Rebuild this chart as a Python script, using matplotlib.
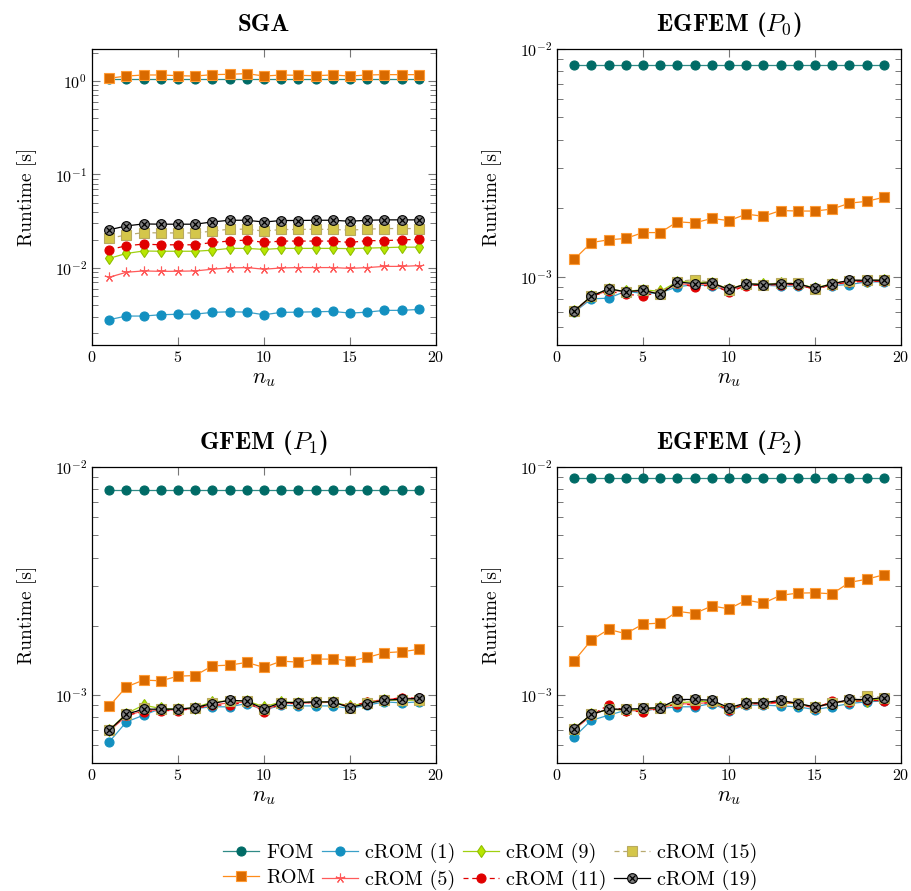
import matplotlib
matplotlib.use("Agg")
import matplotlib.pyplot as plt
from matplotlib.ticker import LogLocator, NullFormatter, FixedLocator
from matplotlib.legend_handler import HandlerTuple

plt.rcParams['font.family'] = 'serif'
plt.rcParams['font.serif'] = ['cmr10', 'DejaVu Serif']
plt.rcParams['mathtext.fontset'] = 'cm'
plt.rcParams['axes.formatter.use_mathtext'] = True
plt.rcParams['axes.unicode_minus'] = False

n_u = list(range(1, 20))

# ---- SGA ----
fom_sga = [1.06, 1.06, 1.06, 1.06, 1.06, 1.06, 1.06, 1.06, 1.06, 1.06, 1.06, 1.06, 1.06, 1.06, 1.06, 1.06, 1.06, 1.06, 1.06]
rom_sga = [1.07, 1.13, 1.16, 1.16, 1.14, 1.13, 1.17, 1.18, 1.20, 1.13, 1.16, 1.15, 1.14, 1.16, 1.13, 1.16, 1.17, 1.17, 1.17]
c1_sga = [0.0028, 0.00306, 0.00306, 0.00316, 0.0032, 0.00321, 0.00335, 0.0034, 0.00337, 0.00316, 0.00335, 0.00337, 0.0034, 0.00343, 0.00329, 0.00337, 0.00352, 0.00352, 0.0036]
c5_sga = [0.00796, 0.0090, 0.0093, 0.0092, 0.00922, 0.0093, 0.0097, 0.0100, 0.0101, 0.0097, 0.0100, 0.0101, 0.0101, 0.0101, 0.0099, 0.0101, 0.0104, 0.0104, 0.0106]
c9_sga = [0.01267, 0.0143, 0.0152, 0.0151, 0.0151, 0.0151, 0.0155, 0.0162, 0.0162, 0.0158, 0.0162, 0.0162, 0.0162, 0.0162, 0.0161, 0.0163, 0.0165, 0.0167, 0.0167]
c11_sga = [0.01567, 0.0173, 0.0180, 0.0177, 0.0177, 0.0177, 0.01875, 0.0194, 0.0199, 0.01875, 0.0194, 0.0194, 0.0194, 0.0194, 0.01875, 0.0196, 0.0196, 0.0200, 0.0202]
c15_sga = [0.0207, 0.0226, 0.0239, 0.0237, 0.0237, 0.0237, 0.0248, 0.0260, 0.0260, 0.0248, 0.0258, 0.0258, 0.0260, 0.0258, 0.0254, 0.0260, 0.0264, 0.0264, 0.0264]
c19_sga = [0.0256, 0.0282, 0.0296, 0.0294, 0.0294, 0.0294, 0.0311, 0.0324, 0.0324, 0.0310, 0.0322, 0.0322, 0.0324, 0.0324, 0.0316, 0.0324, 0.0327, 0.0327, 0.0327]

# ---- EGFEM (P0) ----
fom_p0 = [8.53e-3, 8.53e-3, 8.53e-3, 8.53e-3, 8.53e-3, 8.53e-3, 8.53e-3, 8.53e-3, 8.53e-3, 8.53e-3, 8.53e-3, 8.53e-3, 8.53e-3, 8.53e-3, 8.53e-3, 8.53e-3, 8.53e-3, 8.53e-3, 8.53e-3]
rom_p0 = [1.19e-3, 1.41e-3, 1.45e-3, 1.47e-3, 1.56e-3, 1.56e-3, 1.74e-3, 1.72e-3, 1.80e-3, 1.76e-3, 1.88e-3, 1.84e-3, 1.95e-3, 1.94e-3, 1.94e-3, 1.98e-3, 2.10e-3, 2.14e-3, 2.23e-3]
c1_p0 = [6.97e-4, 7.98e-4, 8.03e-4, 8.62e-4, 8.42e-4, 8.48e-4, 9.01e-4, 9.22e-4, 9.07e-4, 8.68e-4, 9.16e-4, 9.16e-4, 9.07e-4, 9.07e-4, 8.92e-4, 9.13e-4, 9.22e-4, 9.47e-4, 9.47e-4]
c5_p0 = [7.0e-4, 8.15e-4, 8.7e-4, 8.6e-4, 8.6e-4, 8.45e-4, 9.3e-4, 9.2e-4, 9.3e-4, 8.7e-4, 9.2e-4, 9.2e-4, 9.2e-4, 9.2e-4, 8.8e-4, 9.2e-4, 9.5e-4, 9.55e-4, 9.6e-4]
c9_p0 = [7.05e-4, 8.2e-4, 8.8e-4, 8.6e-4, 8.75e-4, 8.6e-4, 9.5e-4, 9.45e-4, 9.4e-4, 8.8e-4, 9.3e-4, 9.25e-4, 9.35e-4, 9.3e-4, 8.9e-4, 9.3e-4, 9.6e-4, 9.6e-4, 9.65e-4]
c11_p0 = [7.05e-4, 8.2e-4, 8.62e-4, 8.34e-4, 8.25e-4, 8.48e-4, 9.38e-4, 8.98e-4, 9.22e-4, 8.53e-4, 9.13e-4, 9.19e-4, 9.22e-4, 9.22e-4, 8.77e-4, 9.22e-4, 9.44e-4, 9.53e-4, 9.53e-4]
c15_p0 = [7.05e-4, 8.2e-4, 8.85e-4, 8.55e-4, 8.7e-4, 8.4e-4, 9.5e-4, 9.7e-4, 9.4e-4, 8.75e-4, 9.3e-4, 9.2e-4, 9.35e-4, 9.35e-4, 8.8e-4, 9.3e-4, 9.6e-4, 9.65e-4, 9.65e-4]
c19_p0 = [7.05e-4, 8.2e-4, 8.83e-4, 8.57e-4, 8.71e-4, 8.34e-4, 9.47e-4, 9.3e-4, 9.38e-4, 8.77e-4, 9.29e-4, 9.22e-4, 9.3e-4, 9.3e-4, 8.86e-4, 9.29e-4, 9.63e-4, 9.63e-4, 9.63e-4]

# ---- GFEM (P1) ----
fom_p1 = [7.95e-3, 7.95e-3, 7.95e-3, 7.95e-3, 7.95e-3, 7.95e-3, 7.95e-3, 7.95e-3, 7.95e-3, 7.95e-3, 7.95e-3, 7.95e-3, 7.95e-3, 7.95e-3, 7.95e-3, 7.95e-3, 7.95e-3, 7.95e-3, 7.95e-3]
rom_p1 = [8.88e-4, 1.081e-3, 1.157e-3, 1.149e-3, 1.204e-3, 1.212e-3, 1.337e-3, 1.346e-3, 1.384e-3, 1.315e-3, 1.402e-3, 1.388e-3, 1.431e-3, 1.431e-3, 1.407e-3, 1.455e-3, 1.526e-3, 1.542e-3, 1.578e-3]
c1_p1 = [6.19e-4, 7.58e-4, 8.11e-4, 8.68e-4, 8.59e-4, 8.68e-4, 8.83e-4, 8.83e-4, 9.13e-4, 8.53e-4, 8.98e-4, 8.91e-4, 8.91e-4, 8.91e-4, 8.68e-4, 8.98e-4, 9.28e-4, 9.19e-4, 9.28e-4]
c5_p1 = [6.9e-4, 8.05e-4, 8.5e-4, 8.55e-4, 8.55e-4, 8.7e-4, 9.0e-4, 9.2e-4, 9.25e-4, 8.5e-4, 9.15e-4, 9.15e-4, 9.2e-4, 9.25e-4, 8.8e-4, 9.3e-4, 9.5e-4, 9.65e-4, 9.6e-4]
c9_p1 = [6.96e-4, 8.25e-4, 8.98e-4, 8.68e-4, 8.62e-4, 8.76e-4, 9.28e-4, 9.38e-4, 9.38e-4, 8.83e-4, 9.28e-4, 9.22e-4, 9.28e-4, 9.28e-4, 8.88e-4, 9.22e-4, 9.44e-4, 9.44e-4, 9.44e-4]
c11_p1 = [6.96e-4, 8.11e-4, 8.4e-4, 8.5e-4, 8.5e-4, 8.68e-4, 8.98e-4, 8.98e-4, 9.28e-4, 8.4e-4, 9.13e-4, 9.13e-4, 9.28e-4, 9.28e-4, 8.83e-4, 9.28e-4, 9.44e-4, 9.7e-4, 9.61e-4]
c15_p1 = [6.96e-4, 8.19e-4, 8.7e-4, 8.6e-4, 8.62e-4, 8.76e-4, 9.2e-4, 9.4e-4, 9.35e-4, 8.6e-4, 9.22e-4, 9.22e-4, 9.28e-4, 9.28e-4, 8.72e-4, 9.15e-4, 9.44e-4, 9.5e-4, 9.5e-4]
c19_p1 = [6.96e-4, 8.19e-4, 8.62e-4, 8.62e-4, 8.62e-4, 8.76e-4, 9.13e-4, 9.44e-4, 9.35e-4, 8.65e-4, 9.22e-4, 9.22e-4, 9.28e-4, 9.28e-4, 8.76e-4, 9.13e-4, 9.44e-4, 9.54e-4, 9.61e-4]

# ---- EGFEM (P2) ----
fom_p2 = [8.94e-3, 8.94e-3, 8.94e-3, 8.94e-3, 8.94e-3, 8.94e-3, 8.94e-3, 8.94e-3, 8.94e-3, 8.94e-3, 8.94e-3, 8.94e-3, 8.94e-3, 8.94e-3, 8.94e-3, 8.94e-3, 8.94e-3, 8.94e-3, 8.94e-3]
rom_p2 = [1.407e-3, 1.735e-3, 1.933e-3, 1.851e-3, 2.04e-3, 2.06e-3, 2.32e-3, 2.27e-3, 2.45e-3, 2.38e-3, 2.60e-3, 2.52e-3, 2.73e-3, 2.79e-3, 2.80e-3, 2.77e-3, 3.11e-3, 3.21e-3, 3.36e-3]
c1_p2 = [6.51e-4, 7.7e-4, 8.11e-4, 8.53e-4, 8.47e-4, 8.68e-4, 8.83e-4, 8.83e-4, 9.13e-4, 8.47e-4, 8.98e-4, 8.98e-4, 8.91e-4, 8.83e-4, 8.59e-4, 8.83e-4, 9.13e-4, 9.28e-4, 9.38e-4]
c5_p2 = [7.0e-4, 8.1e-4, 8.7e-4, 8.5e-4, 8.5e-4, 8.7e-4, 9.1e-4, 9.1e-4, 9.25e-4, 8.55e-4, 9.1e-4, 9.1e-4, 9.2e-4, 9.1e-4, 8.7e-4, 9.2e-4, 9.4e-4, 9.5e-4, 9.55e-4]
c9_p2 = [7.08e-4, 8.19e-4, 8.6e-4, 8.55e-4, 8.6e-4, 8.8e-4, 9.2e-4, 9.3e-4, 9.35e-4, 8.6e-4, 9.15e-4, 9.2e-4, 9.3e-4, 9.1e-4, 8.8e-4, 9.2e-4, 9.35e-4, 9.4e-4, 9.6e-4]
c11_p2 = [7.08e-4, 8.11e-4, 9.0e-4, 8.47e-4, 8.4e-4, 8.68e-4, 9.13e-4, 8.98e-4, 9.28e-4, 8.53e-4, 9.13e-4, 9.13e-4, 9.28e-4, 9.19e-4, 8.68e-4, 9.35e-4, 9.28e-4, 9.44e-4, 9.38e-4]
c15_p2 = [7.08e-4, 8.19e-4, 8.65e-4, 8.6e-4, 8.7e-4, 8.76e-4, 9.4e-4, 9.45e-4, 9.4e-4, 8.7e-4, 9.2e-4, 9.2e-4, 9.4e-4, 9.15e-4, 8.8e-4, 9.15e-4, 9.5e-4, 9.9e-4, 9.7e-4]
c19_p2 = [7.08e-4, 8.19e-4, 8.62e-4, 8.62e-4, 8.68e-4, 8.76e-4, 9.51e-4, 9.51e-4, 9.44e-4, 8.74e-4, 9.19e-4, 9.19e-4, 9.44e-4, 9.13e-4, 8.83e-4, 9.13e-4, 9.51e-4, 9.51e-4, 9.70e-4]

titles = ['SGA', r'EGFEM ($P_0$)', r'GFEM ($P_1$)', r'EGFEM ($P_2$)']
labels = ['FOM', 'ROM', 'cROM (1)', 'cROM (5)', 'cROM (9)', 'cROM (11)', 'cROM (15)', 'cROM (19)']
panels = [
    [fom_sga, rom_sga, c1_sga, c5_sga, c9_sga, c11_sga, c15_sga, c19_sga],
    [fom_p0, rom_p0, c1_p0, c5_p0, c9_p0, c11_p0, c15_p0, c19_p0],
    [fom_p1, rom_p1, c1_p1, c5_p1, c9_p1, c11_p1, c15_p1, c19_p1],
    [fom_p2, rom_p2, c1_p2, c5_p2, c9_p2, c11_p2, c15_p2, c19_p2],
]
ylims = [(1.5e-3, 2.2), (5e-4, 1e-2), (5e-4, 1e-2), (5e-4, 1e-2)]

# line styles per series
styles = [
    dict(color='#2f8a86', marker='o', ms=6.5, mfc='#006b66', mec='#006b66', ls='-'),
    dict(color='#ff8c1a', marker='s', ms=6.5, mfc='#d96a00', mec='#ff9a33', ls='-'),
    dict(color='#3aa0c8', marker='o', ms=6.5, mfc='#1390c0', mec='#1390c0', ls='-'),
    dict(color='#ff5a5a', marker=(5, 2, 0), ms=7, mfc='#ff5a5a', mec='#ff5a5a', ls='-'),
    dict(color='#a0d010', marker='d', ms=6.5, mfc='#b8e600', mec='#90c000', ls='-'),
    dict(color='#e00000', marker='o', ms=6.5, mfc='#e00000', mec='#e00000', ls=(0, (4, 3))),
    dict(color='#b8aa70', marker='s', ms=6.5, mfc='#d4c64a', mec='#b8aa60', ls=(0, (4, 3))),
    dict(color='black', marker='o', ms=7, mfc='#808080', mec='black', ls='-'),
]

fig = plt.figure(figsize=(9.11, 8.91), dpi=100)
W, H = 911.0, 891.0
boxes = [(92, 49), (557, 49), (92, 467), (557, 467)]

handles = []
for k, (x0, y0) in enumerate(boxes):
    ax = fig.add_axes([x0 / W, 1 - (y0 + 296) / H, 344 / W, 296 / H])
    hs = []
    for j, ys in enumerate(panels[k]):
        st = styles[j]
        h, = ax.plot(n_u, ys, color=st['color'], ls=st['ls'], lw=0.9,
                     marker=st['marker'], ms=st['ms'], mfc=st['mfc'],
                     mec=st['mec'], mew=0.8, zorder=2 + j)
        if j == 7:
            hx, = ax.plot(n_u, ys, ls='none', marker='x', ms=4.2,
                          mec='black', mew=0.9, zorder=2 + j)
            h = (h, hx)
        hs.append(h)
    if k == 0:
        handles = hs
    ax.set_yscale('log')
    ax.set_xlim(0, 20)
    ax.set_ylim(*ylims[k])
    ax.xaxis.set_major_locator(FixedLocator([0, 5, 10, 15, 20]))
    ax.yaxis.set_major_locator(LogLocator(base=10))
    ax.yaxis.set_minor_locator(LogLocator(base=10, subs=range(2, 10)))
    ax.yaxis.set_minor_formatter(NullFormatter())
    ax.tick_params(which='both', direction='in', top=True, right=True,
                   color='#777777', labelsize=11.5)
    ax.tick_params(which='major', length=6, width=0.8)
    ax.tick_params(which='minor', length=4, width=0.7)
    for sp in ax.spines.values():
        sp.set_linewidth(0.9)
    ax.set_xlabel(r'$n_u$', fontsize=16, labelpad=3)
    ax.set_ylabel('Runtime [s]', fontsize=14, labelpad=13)
    ax.set_title(titles[k], fontsize=18, fontfamily='cmb10', pad=13)

fig.legend(handles, labels, loc='center', ncol=4, frameon=False,
           bbox_to_anchor=(0.538, 0.0275), fontsize=14.5, handlelength=1.8,
           handletextpad=0.35, columnspacing=0.35, labelspacing=0.3,
           borderpad=0.2,
           handler_map={tuple: HandlerTuple(ndivide=1, pad=0)})

fig.savefig('out.png', dpi=100)
